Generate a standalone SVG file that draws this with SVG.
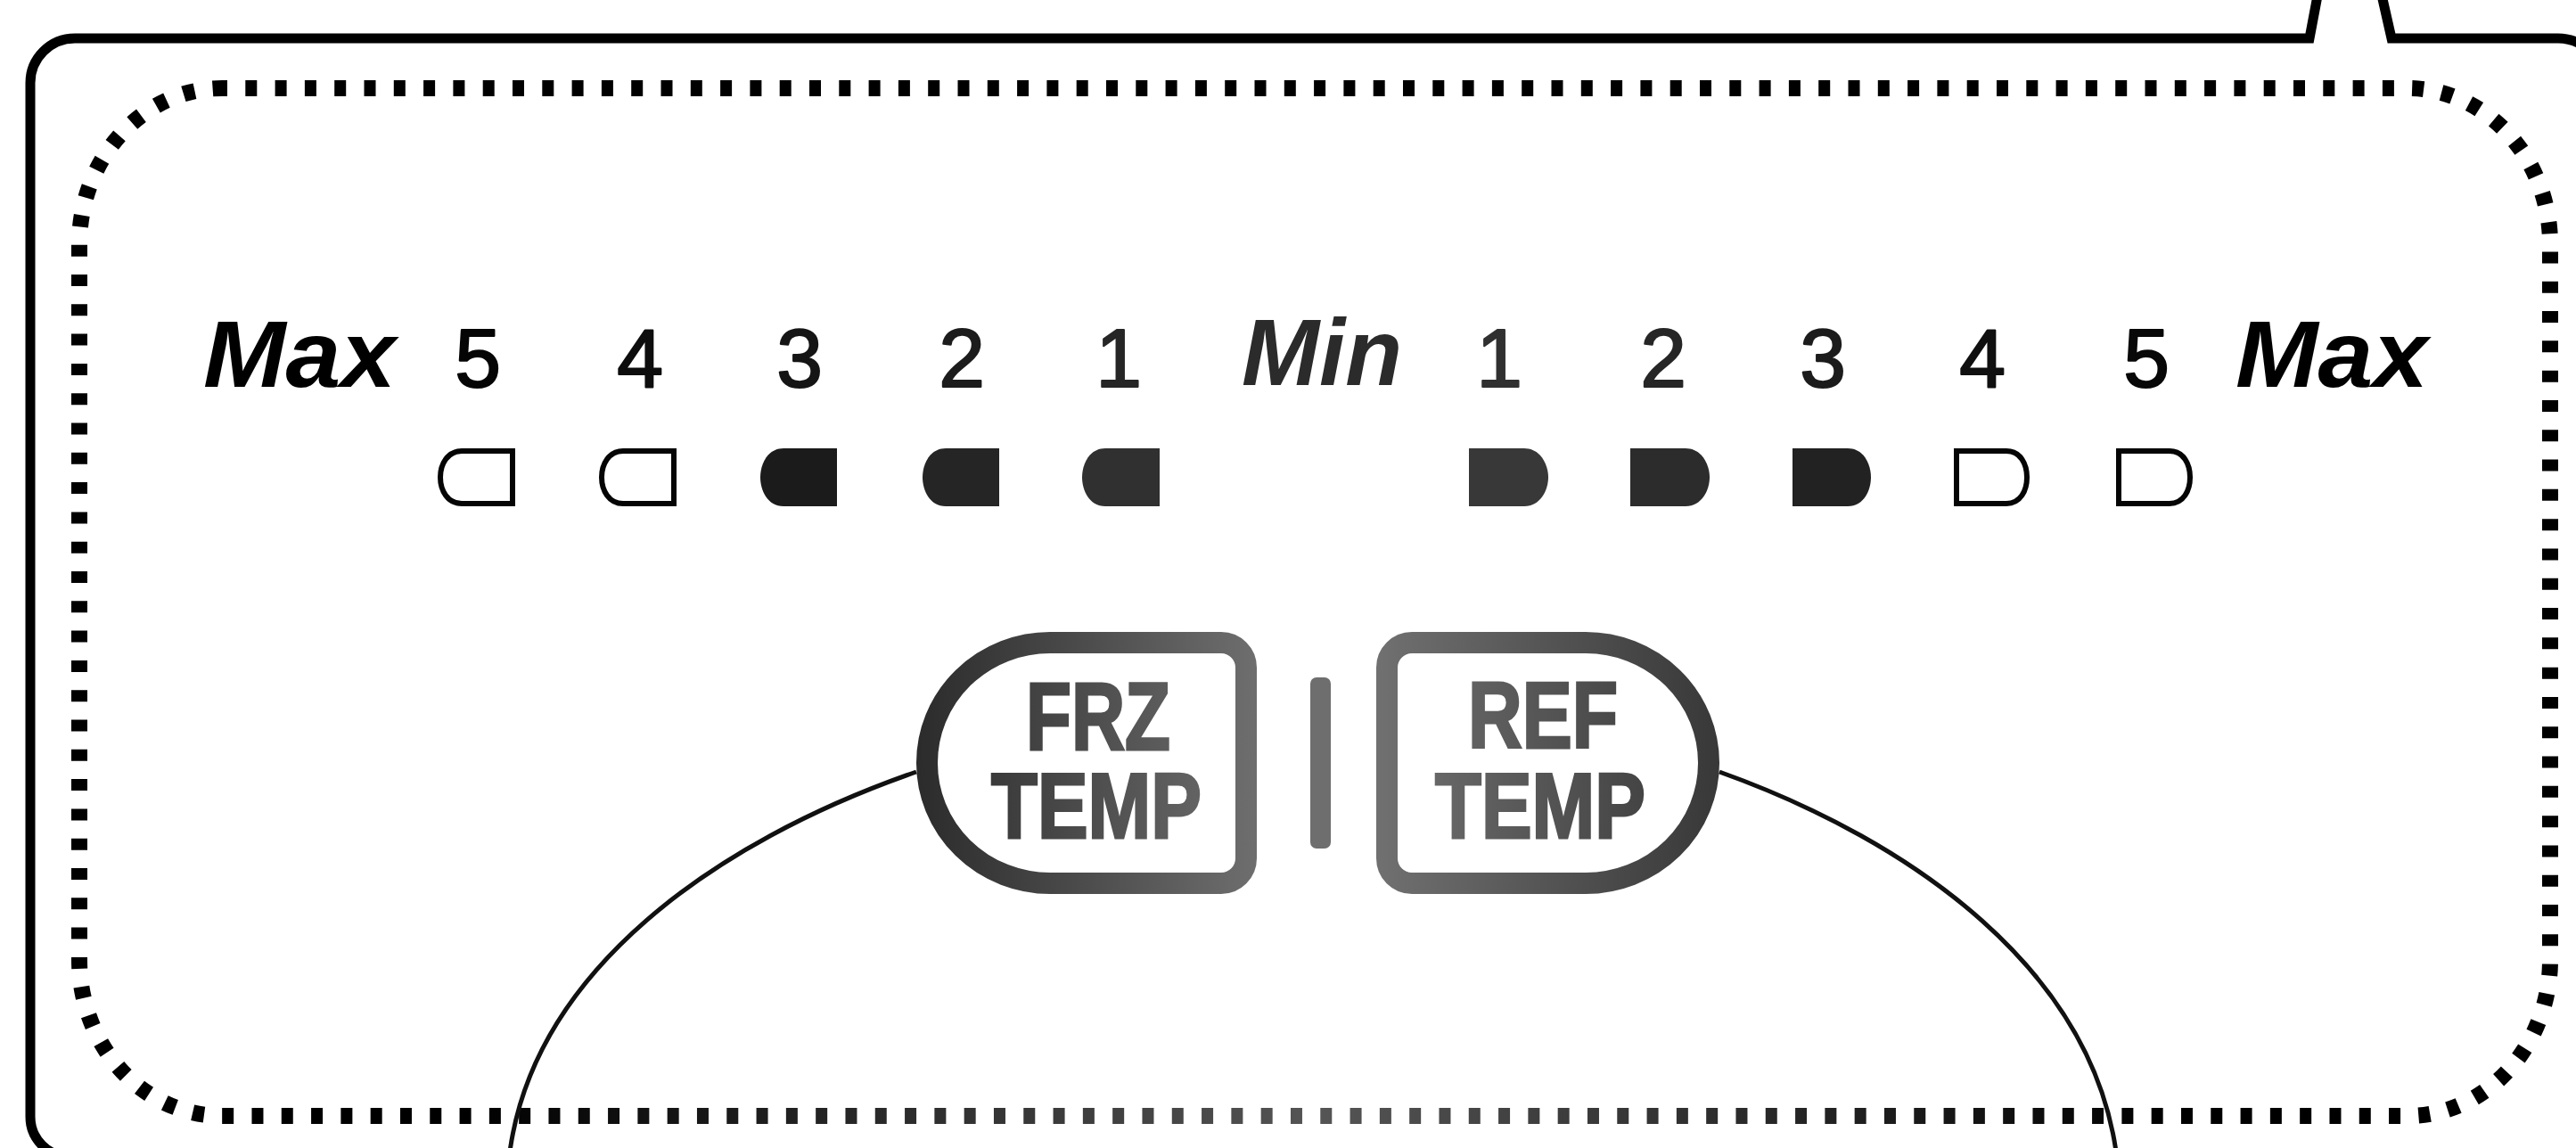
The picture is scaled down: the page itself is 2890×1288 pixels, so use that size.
<svg xmlns="http://www.w3.org/2000/svg" width="2890" height="1288" viewBox="0 0 2890 1288">
<style>
.lbl{font-family:"Liberation Sans",Arial,sans-serif;font-style:italic;font-weight:bold;font-size:106px}
.num{font-family:"Liberation Sans",Arial,sans-serif;font-size:93px;text-anchor:middle;stroke-width:2.2;stroke-linejoin:round}
.btxt{font-family:"Liberation Sans",Arial,sans-serif;font-weight:bold;text-anchor:middle;fill:url(#btnG);stroke:url(#btnG);stroke-width:3}
.ledo{fill:none;stroke:#050505;stroke-width:6}
.conn{fill:none;stroke:#111;stroke-width:5}
</style>
<defs>
<linearGradient id="btnG" gradientUnits="userSpaceOnUse" x1="1028" y1="0" x2="1929" y2="0">
<stop offset="0" stop-color="#2b2b2b"/>
<stop offset="0.5" stop-color="#7a7a7a"/>
<stop offset="1" stop-color="#383838"/>
</linearGradient>
<radialGradient id="dotG" gradientUnits="userSpaceOnUse" cx="1480" cy="1252" r="950">
<stop offset="0" stop-color="#555"/>
<stop offset="1" stop-color="#000"/>
</radialGradient>
</defs>
<rect width="2890" height="1288" fill="#fff"/>

<g id="frame">
<path d="M2601,-10 L2591,43 H84 A50 50 0 0 0 34,93 V1253 A45 45 0 0 0 79,1298 H2870" fill="none" stroke="#000" stroke-width="11" stroke-linejoin="miter"/>
<path d="M2671,-10 L2683,43 H2870 A50 50 0 0 1 2920,93 V1300" fill="none" stroke="#000" stroke-width="11" stroke-linejoin="miter"/>
</g>

<g id="panel">
<rect x="89" y="99" width="2772" height="1153" rx="160" ry="175" fill="none" stroke="url(#dotG)" stroke-width="18" stroke-dasharray="13 20.3" stroke-dashoffset="7"/>
</g>

<g id="labels">
<text class="lbl" x="228" y="434" textLength="216" lengthAdjust="spacingAndGlyphs" fill="#000">Max</text>
<text class="num" x="536" y="434" fill="#050505" stroke="#050505">5</text>
<text class="num" x="718" y="434" fill="#0d0d0d" stroke="#0d0d0d">4</text>
<text class="num" x="897" y="434" fill="#151515" stroke="#151515">3</text>
<text class="num" x="1079" y="434" fill="#1c1c1c" stroke="#1c1c1c">2</text>
<text class="num" x="1255" y="434" fill="#262626" stroke="#262626">1</text>
<text class="lbl" x="1393" y="432" textLength="180" lengthAdjust="spacingAndGlyphs" fill="#2b2b2b">Min</text>
<text class="num" x="1682" y="434" fill="#303030" stroke="#303030">1</text>
<text class="num" x="1866" y="434" fill="#262626" stroke="#262626">2</text>
<text class="num" x="2045" y="434" fill="#1c1c1c" stroke="#1c1c1c">3</text>
<text class="num" x="2224" y="434" fill="#101010" stroke="#101010">4</text>
<text class="num" x="2408" y="434" fill="#080808" stroke="#080808">5</text>
<text class="lbl" x="2508" y="434" textLength="216" lengthAdjust="spacingAndGlyphs" fill="#000">Max</text>
</g>

<g id="leds-frz">
<path id="frz-led5" class="ledo" d="M575,506 H518 C502,506 494,521 494,535.5 C494,550 502,565 518,565 H575 Z"/>
<path id="frz-led4" class="ledo" d="M756,506 H699 C683,506 675,521 675,535.5 C675,550 683,565 699,565 H756 Z"/>
<path id="frz-led3" fill="#1b1b1b" d="M939,503 H879 C861,503 853,521 853,535.5 C853,550 861,568 879,568 H939 Z"/>
<path id="frz-led2" fill="#252525" d="M1121,503 H1061 C1043,503 1035,521 1035,535.5 C1035,550 1043,568 1061,568 H1121 Z"/>
<path id="frz-led1" fill="#303030" d="M1301,503 H1240 C1222,503 1214,521 1214,535.5 C1214,550 1222,568 1240,568 H1301 Z"/>
</g>

<g id="leds-ref">
<path id="ref-led1" fill="#383838" d="M1648,503 H1710 C1728,503 1737,521 1737,535.5 C1737,550 1728,568 1710,568 H1648 Z"/>
<path id="ref-led2" fill="#2c2c2c" d="M1829,503 H1891 C1909,503 1918,521 1918,535.5 C1918,550 1909,568 1891,568 H1829 Z"/>
<path id="ref-led3" fill="#222222" d="M2011,503 H2073 C2091,503 2099,521 2099,535.5 C2099,550 2091,568 2073,568 H2011 Z"/>
<path id="ref-led4" class="ledo" d="M2195,506 H2251 C2267,506 2274,521 2274,535.5 C2274,550 2267,565 2251,565 H2195 Z"/>
<path id="ref-led5" class="ledo" d="M2377,506 H2434 C2450,506 2457,521 2457,535.5 C2457,550 2450,565 2434,565 H2377 Z"/>
</g>

<g id="frz-button">
<path d="M1178,721 H1370 A28 28 0 0 1 1398,749 V963 A28 28 0 0 1 1370,991 H1178 A138 135 0 0 1 1178,721 Z" fill="#fff" stroke="url(#btnG)" stroke-width="24"/>
<text class="btxt"><tspan x="1232" y="841" font-size="108" textLength="162" lengthAdjust="spacingAndGlyphs">FRZ</tspan><tspan x="1230" y="940" font-size="104" textLength="236" lengthAdjust="spacingAndGlyphs">TEMP</tspan></text>
</g>

<g id="separator">
<rect x="1470" y="760" width="23" height="192" rx="7" fill="#6e6e6e"/>
</g>

<g id="ref-button">
<path d="M1779,721 H1584 A28 28 0 0 0 1556,749 V963 A28 28 0 0 0 1584,991 H1779 A138 135 0 0 0 1779,721 Z" fill="#fff" stroke="url(#btnG)" stroke-width="24"/>
<text class="btxt"><tspan x="1731" y="839" font-size="106" textLength="168" lengthAdjust="spacingAndGlyphs">REF</tspan><tspan x="1728" y="940" font-size="104" textLength="236" lengthAdjust="spacingAndGlyphs">TEMP</tspan></text>
</g>

<g id="connectors">
<path class="conn" d="M1028,866 C800,945 600,1090 572,1292"/>
<path class="conn" d="M1929,866 C2150,945 2345,1090 2374,1292"/>
</g>
</svg>
